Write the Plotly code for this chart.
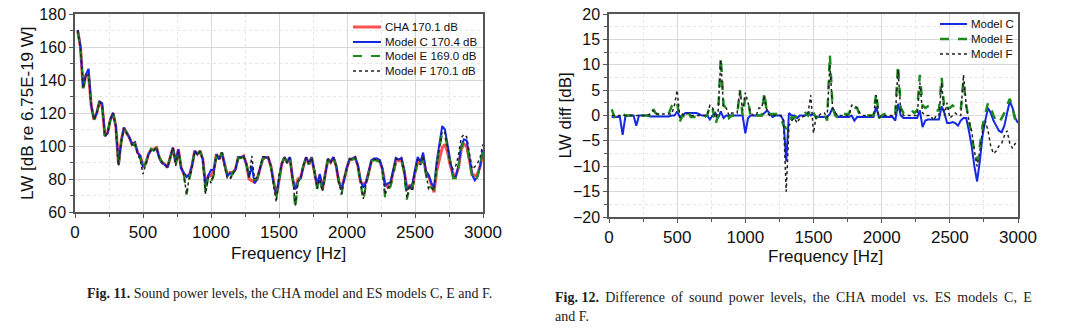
import plotly.graph_objects as go

W, H = 1080, 328

freq = list(range(20, 3001, 20))

cha = [170, 160, 135, 143, 143, 124, 116, 120, 127, 124,
       106, 108, 116, 120, 112, 89, 103, 111, 108, 105,
       101, 102, 96, 94, 88, 89, 95, 98, 98, 99,
       93, 90, 89, 87, 93, 99, 90, 98, 87, 83,
       82, 82, 88, 97, 95, 97, 92, 76, 82, 82,
       85, 95, 92, 96, 89, 82, 84, 84, 86, 93,
       93, 94, 89, 80, 79, 78, 80, 86, 92, 93,
       93, 88, 78, 70, 79, 89, 93, 90, 93, 80,
       74, 80, 81, 88, 93, 89, 93, 85, 76, 82,
       74, 83, 92, 90, 93, 88, 78, 75, 80, 87,
       92, 92, 93, 88, 78, 77, 78, 84, 91, 92,
       92, 91, 86, 77, 75, 77, 84, 92, 91, 92,
       85, 75, 76, 75, 84, 92, 89, 94, 84, 82,
       77, 72, 85, 93, 99, 101, 96, 88, 83, 82,
       87, 98, 101, 100, 92, 83, 82, 83, 88, 96]

model_c = [170.3, 160.3, 135.3, 143.3, 146.8, 124.2, 116, 120, 127, 126,
           106, 108, 116, 120, 112.2, 89.2, 103.2, 111.2, 108.2, 105.2,
           101.2, 102.2, 96, 94, 87.2, 89.3, 95, 97.5, 97.5, 98.5,
           92.5, 89.5, 88.7, 87, 93, 99, 90.8, 98, 86.5, 83.5,
           81.2, 82.5, 88, 97, 95, 97, 92, 76, 82, 85.5,
           85.5, 95, 92, 96, 89, 82, 83.5, 83, 85.7, 93.3,
           93, 94, 89, 81, 88, 77.5, 80, 86, 92.5, 93,
           93, 88, 77.5, 70, 78.7, 89.3, 93.3, 90.3, 93.3, 80.3,
           73.7, 78.5, 80.5, 88.3, 93.3, 89.3, 93.3, 85.3, 76, 83,
           74.3, 83.3, 92.3, 90.3, 93.3, 88.3, 78.3, 73.3, 80.3, 87.3,
           92.3, 92.3, 93.3, 88.3, 79, 74.7, 78, 84.5, 91.5, 92.5,
           92.5, 91.5, 86.5, 76, 77.3, 78, 84.8, 92.8, 91.8, 92.8,
           85.8, 73.2, 75.5, 76.5, 85.5, 93.3, 90.5, 96, 85, 82.5,
           77.5, 75, 91, 103, 112, 110, 100, 89, 81.5, 81.5,
           88, 100, 104, 103.3, 94, 82.5, 79.2, 81.5, 88.5, 97.5]

model_e = [168.8, 160.3, 135, 143, 142.7, 124, 116, 120, 127, 124,
           106, 108, 116, 120, 112, 87.5, 102.5, 110.8, 107.8, 104.8,
           100.8, 101.5, 94.2, 92.5, 85.5, 90.2, 95, 98.3, 97.2, 99.3,
           93.3, 90.3, 89.3, 87.3, 93.3, 99, 88, 96.5, 88.8, 83,
           70.5, 80, 86.5, 97.5, 95, 97, 92, 71, 82, 78.5,
           82, 95.5, 92, 96, 89, 82, 79.5, 84, 85.7, 92.7,
           92.7, 93.7, 89.3, 82, 81.5, 79.5, 80.3, 86.5, 92, 93,
           93, 87.5, 78, 68.5, 78.5, 89.5, 93, 89.7, 92.7, 81,
           62, 78.5, 81, 88.5, 92.7, 88.7, 92.7, 84.7, 74, 80.5,
           72.5, 83, 92, 90, 93, 88, 78, 70.5, 80.5, 87,
           91.7, 91.7, 92.7, 87.7, 77.5, 67, 76.5, 83.5, 90.7, 91.5,
           91, 90.5, 85, 69, 73, 75.5, 82.2, 90.2, 89.5, 91,
           84, 67.5, 75, 73.5, 82.5, 90, 87.5, 93, 83, 75,
           75, 73, 89, 100, 108, 107, 98, 87.5, 80.5, 80.5,
           87, 99, 102.5, 100.5, 91.5, 81, 78.7, 81.5, 89, 98.5]

model_f = [170, 160, 135, 143, 143, 124, 116, 120, 127, 124,
           106, 108, 116, 120, 111.7, 88, 102.7, 110.7, 107.7, 104.7,
           100.7, 101.7, 95.7, 92, 83, 89.5, 94.7, 98, 97.5, 99,
           93, 90, 89, 87, 93, 99, 88, 96.5, 87.5, 82.5,
           71, 80.5, 86.5, 97, 94.5, 96.5, 91.5, 71, 81, 77.5,
           82.5, 94.5, 92, 96, 87.5, 80.5, 80, 83.5, 86, 93,
           93, 94, 89, 81, 94, 80, 81, 86.5, 93.5, 93.5,
           93.3, 88, 77.5, 66, 82.5, 89, 93, 89.5, 92.5, 80.5,
           64, 78.5, 80.5, 88, 93, 89, 93, 85, 74, 80,
           72.5, 82.5, 92, 90, 93, 88, 78, 71, 80.5, 87,
           92, 92, 93, 88, 78, 68, 77, 84, 91, 92,
           92, 91, 86, 70.5, 74.5, 77, 84, 92, 92, 92,
           85, 68.5, 76, 72.5, 84.5, 92, 88.5, 94, 84, 74,
           75, 73, 88, 100, 109, 108, 99, 89, 86, 88,
           94.5, 105, 107, 105.5, 96, 86, 87.5, 89.5, 93.5, 101]

diff_c = [-0.3, -0.3, -0.3, -0.3, -3.8, -0.2, 0, 0, 0, -2.0,
          0, 0, 0, 0, -0.2, -0.2, -0.2, -0.2, -0.2, -0.2,
          -0.2, -0.2, 0, 0, 0.8, -0.3, 0, 0.5, 0.5, 0.5,
          0.5, 0.5, 0.3, 0, 0, 0, -0.8, 0, 0.5, -0.5,
          0.8, -0.5, 0, 0, 0, 0, 0, 0, 0, -3.5,
          -0.5, 0, 0, 0, 0, 0, 0.5, 1.0, 0.3, -0.3,
          0, 0, 0, -1.0, -9.0, 0.5, 0, 0, -0.5, 0,
          0, 0, 0.5, 0, 0.3, -0.3, -0.3, -0.3, -0.3, -0.3,
          0.3, 1.5, 0.5, -0.3, -0.3, -0.3, -0.3, -0.3, 0, -1.0,
          -0.3, -0.3, -0.3, -0.3, -0.3, -0.3, -0.3, 1.7, -0.3, -0.3,
          -0.3, -0.3, -0.3, -0.3, -1.0, 2.3, 0, -0.5, -0.5, -0.5,
          -0.5, -0.5, -0.5, 1.0, -2.3, -1.0, -0.8, -0.8, -0.8, -0.8,
          -0.8, 1.8, 0.5, -1.5, -1.5, -1.3, -1.5, -2.0, -1.0, -0.5,
          -0.5, -3.0, -6.0, -10.0, -13.0, -9.0, -4.0, -1.0, 1.5, 0.5,
          -1.0, -2.0, -3.0, -3.3, -2.0, 0.5, 2.8, 1.5, -0.5, -1.5]

diff_e = [1.2, -0.3, 0, 0, 0.3, 0, 0, 0, 0, 0,
          0, 0, 0, 0, 0, 1.5, 0.5, 0.2, 0.2, 0.2,
          0.2, 0.5, 1.8, 1.5, 2.5, -1.2, 0, -0.3, 0.8, -0.3,
          -0.3, -0.3, -0.3, -0.3, -0.3, 0, 2.0, 1.5, -1.8, 0,
          11.5, 2.0, 1.5, -0.5, 0, 0, 0, 5.0, 0, 3.5,
          3.0, -0.5, 0, 0, 0, 0, 4.5, 0, 0.3, 0.3,
          0.3, 0.3, -0.3, -2.0, -2.5, -1.5, -0.3, -0.5, 0, 0,
          0, 0.5, 0, 1.5, 0.5, -0.5, 0, 0.3, 0.3, -1.0,
          12.0, 1.5, 0, -0.5, 0.3, 0.3, 0.3, 0.3, 2.0, 1.5,
          1.5, 0, 0, 0, 0, 0, 0, 4.5, -0.5, 0,
          0.3, 0.3, 0.3, 0.3, 0.5, 10.0, 1.5, 0.5, 0.3, 0.5,
          1.0, 0.5, 1.0, 8.0, 2.0, 1.5, 1.8, 1.8, 1.5, 1.0,
          1.0, 7.5, 1.0, 1.5, 1.5, 2.0, 1.5, 1.0, 1.0, 7.0,
          2.0, -1.0, -4.0, -7.0, -9.0, -6.0, -2.0, 0.5, 2.5, 1.5,
          0, -1.0, -1.5, -0.5, 0.5, 2.0, 3.3, 1.5, -1.0, -2.5]

diff_f = [0, 0, 0, 0, 0, 0, 0, 0, 0, 0,
          0, 0, 0, 0, 0.3, 1.0, 0.3, 0.3, 0.3, 0.3,
          0.3, 0.3, 0.3, 2.0, 5.0, -0.5, 0.3, 0, 0.5, 0,
          0, 0, 0, 0, 0, 0, 2.0, 1.5, -0.5, 0.5,
          11.0, 1.5, 1.5, 0, 0.5, 0.5, 0.5, 5.0, 1.0, 4.5,
          2.5, 0.5, 0, 0, 1.5, 1.5, 4.0, 0.5, 0, 0,
          0, 0, 0, -1.0, -15.0, -2.0, -1.0, -0.5, -1.5, -0.5,
          -0.3, 0, 0.5, 4.0, -3.5, 0, 0, 0.5, 0.5, -0.5,
          10.0, 1.5, 0.5, 0, 0, 0, 0, 0, 2.0, 2.0,
          1.5, 0.5, 0, 0, 0, 0, 0, 4.0, -0.5, 0,
          0, 0, 0, 0, 0, 9.0, 1.0, 0, 0, 0,
          0, 0, 0, 6.5, 0.5, 0, 0, 0, -1.0, 0,
          0, 6.5, 0, 2.5, -0.5, 0, 0.5, 0, 0, 8.0,
          2.0, -1.0, -3.0, -7.0, -10.0, -7.0, -3.0, -1.0, -3.0, -6.0,
          -7.5, -7.0, -6.0, -5.5, -4.0, -3.0, -5.5, -6.5, -5.5, -5.0]

left_names = ["CHA 170.1 dB", "Model C 170.4 dB", "Model E 169.0 dB", "Model F 170.1 dB"]
right_names = ["Model C", "Model E", "Model F"]

RED = "rgba(255,50,50,0.85)"
BLUE = "#1428e6"
GREEN = "#1e8a1e"
BLACK = "#222222"

STY_CHA = dict(color=RED, width=3)
STY_C = dict(color=BLUE, width=2)
STY_E = dict(color=GREEN, width=2.2, dash="dash")
STY_F = dict(color=BLACK, width=1.5, dash="dot")
STY_E2 = dict(color=GREEN, width=2.5, dash="dash")

left_series = [(cha, STY_CHA), (model_c, STY_C), (model_e, STY_E), (model_f, STY_F)]
right_series = [(diff_c, STY_C), (diff_e, STY_E2), (diff_f, STY_F)]

fig = go.Figure()
for name, (ys, sty) in zip(left_names, left_series):
    fig.add_trace(go.Scatter(x=freq, y=ys, name=name, mode="lines", line=sty,
                             xaxis="x", yaxis="y", showlegend=False))
for name, (ys, sty) in zip(right_names, right_series):
    fig.add_trace(go.Scatter(x=freq, y=ys, name=name, mode="lines", line=sty,
                             xaxis="x2", yaxis="y2", showlegend=False))

FONT = "Liberation Sans, Arial, sans-serif"
AX = dict(showline=True, linecolor="#555555", linewidth=1.5, mirror=True,
          ticks="outside", ticklen=4, tickcolor="#555555", tickwidth=1,
          showgrid=True, gridcolor="#d9d9d9", gridwidth=1, zeroline=False,
          automargin=False,
          tickfont=dict(family=FONT, size=17, color="#111111"))
YTICKFONT = dict(family=FONT, size=16, color="#111111")


def minor(dt):
    return dict(dtick=dt, showgrid=True, gridcolor="#e6e6e6", griddash="dot",
                gridwidth=1, ticks="outside", ticklen=3, tickcolor="#555555")


def px_x(p):
    return p / W


def px_y(p):
    return 1 - p / H


fig.update_layout(
    width=W, height=H, margin=dict(l=0, r=0, t=0, b=0, autoexpand=False),
    paper_bgcolor="white", plot_bgcolor="white",
    font=dict(family=FONT, color="#111111"),
    showlegend=False,
    xaxis=dict(AX, domain=[px_x(75), px_x(483)], range=[0, 3000], dtick=500,
               anchor="y", minor=minor(250)),
    yaxis=dict(AX, domain=[px_y(212), px_y(14)], range=[60, 180], dtick=20,
               anchor="x", minor=minor(10), tickfont=YTICKFONT),
    xaxis2=dict(AX, domain=[px_x(609), px_x(1018)], range=[0, 3000], dtick=500,
                anchor="y2", minor=minor(250)),
    yaxis2=dict(AX, domain=[px_y(217), px_y(14)], range=[-20, 20], dtick=5,
                anchor="x2", minor=minor(2.5), tickfont=YTICKFONT),
)

# axis titles placed in pixels
def add_title(text, x, y, angle=0):
    fig.add_annotation(xref="paper", yref="paper", x=px_x(x), y=px_y(y),
                       xanchor="center", yanchor="middle", showarrow=False, textangle=angle,
                       font=dict(family=FONT, size=17, color="#111111"), text=text)

add_title("Frequency [Hz]", 288, 253)
add_title("Frequency [Hz]", 825, 256)
add_title("LW [dB re 6.75E-19 W]", 28, 113, -90)
add_title("LW diff [dB]", 565, 115.5, -90)

# custom compact legends (line sample + label), positioned in pixels
def add_legend(names, styles, x0, x1, xtext, rows):
    for name, sty, yrow in zip(names, styles, rows):
        fig.add_shape(type="line", xref="paper", yref="paper",
                      x0=px_x(x0), x1=px_x(x1), y0=px_y(yrow), y1=px_y(yrow),
                      line=dict(color=sty["color"], width=sty["width"], dash=sty.get("dash", "solid")))
        fig.add_annotation(xref="paper", yref="paper", x=px_x(xtext), y=px_y(yrow),
                           xanchor="left", yanchor="middle", showarrow=False,
                           font=dict(family=FONT, size=11.5, color="#111111"), text=name)

add_legend(left_names, [s for _, s in left_series], 353, 381, 383, [27, 42, 56, 71])
add_legend(right_names, [s for _, s in right_series], 940, 967, 969, [24, 39, 54])

SERIF = "Liberation Serif, Times New Roman, serif"
fig.add_annotation(xref="paper", yref="paper", x=px_x(85), y=px_y(293), xanchor="left", yanchor="middle",
                   showarrow=False, font=dict(family=SERIF, size=14, color="#222222"),
                   text="<b>Fig. 11.</b> Sound power levels, the CHA model and ES models C, E and F.")
cap2 = "Difference of sound power levels, the CHA model vs. ES models C, E".replace(" ", " \u2009")
fig.add_annotation(xref="paper", yref="paper", x=px_x(553), y=px_y(297), xanchor="left", yanchor="middle",
                   showarrow=False, font=dict(family=SERIF, size=14, color="#222222"),
                   text="<b>Fig. 12.</b> \u2009" + cap2)
fig.add_annotation(xref="paper", yref="paper", x=px_x(553), y=px_y(316), xanchor="left", yanchor="middle",
                   showarrow=False, font=dict(family=SERIF, size=14, color="#222222"),
                   text="and F.")

fig.write_html("out.html")
